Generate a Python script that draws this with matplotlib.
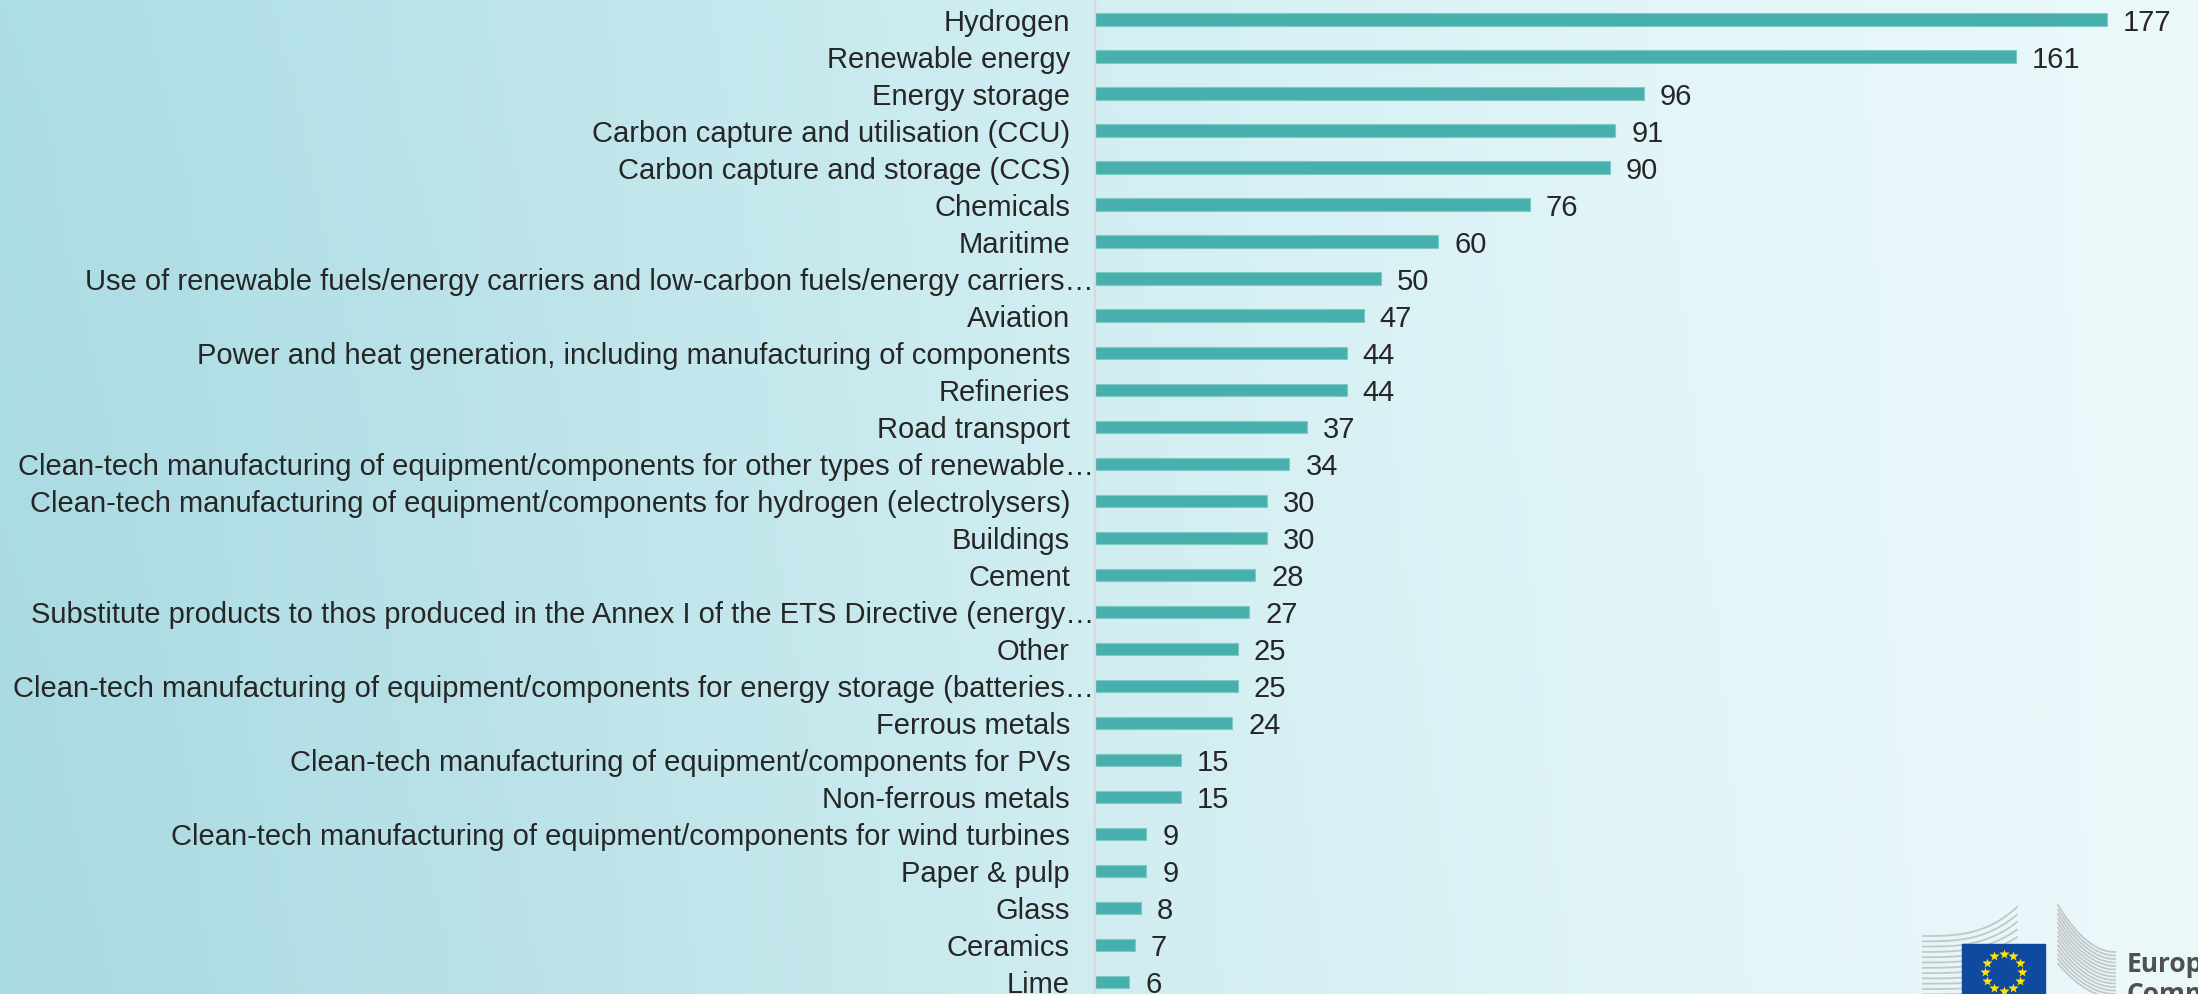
import numpy as np
import matplotlib.pyplot as plt
from matplotlib.patches import Rectangle

categories = [
    "Hydrogen",
    "Renewable energy",
    "Energy storage",
    "Carbon capture and utilisation (CCU)",
    "Carbon capture and storage (CCS)",
    "Chemicals",
    "Maritime",
    "Use of renewable fuels/energy carriers and low-carbon fuels/energy carriers…",
    "Aviation",
    "Power and heat generation, including manufacturing of components",
    "Refineries",
    "Road transport",
    "Clean-tech manufacturing of equipment/components for other types of renewable…",
    "Clean-tech manufacturing of equipment/components for hydrogen (electrolysers)",
    "Buildings",
    "Cement",
    "Substitute products to thos produced in the Annex I of the ETS Directive (energy…",
    "Other",
    "Clean-tech manufacturing of equipment/components for energy storage (batteries…",
    "Ferrous metals",
    "Clean-tech manufacturing of equipment/components for PVs",
    "Non-ferrous metals",
    "Clean-tech manufacturing of equipment/components for wind turbines",
    "Paper & pulp",
    "Glass",
    "Ceramics",
    "Lime",
]
values = [177, 161, 96, 91, 90, 76, 60, 50, 47, 44, 44, 37, 34, 30, 30, 28, 27,
          25, 25, 24, 15, 15, 9, 9, 8, 7, 6]

W, H = 2198, 994
fig = plt.figure(figsize=(W / 100, H / 100), dpi=100)

# background: pale cyan wash, darker on the left
bg = fig.add_axes([0, 0, 1, 1])
bg.set_xlim(0, W)
bg.set_ylim(H, 0)
bg.axis("off")
stops = [0.0, 0.25, 0.5, 0.75, 1.0]
cols = np.array([[173, 221, 229], [190, 229, 235], [210, 239, 243],
                 [226, 245, 248], [236, 249, 251]]) / 255
gx = np.linspace(0, 1, 500)
gy = np.linspace(0, 1, 200)
rgb = np.stack([np.interp(gx, stops, cols[:, c]) for c in range(3)], axis=-1)
img = np.repeat(rgb[None, :, :], len(gy), axis=0)
img = img - 0.015 * gy[:, None, None] * (1 - gx[None, :, None])
bg.imshow(np.clip(img, 0, 1), extent=[0, W, H, 0], aspect="auto", zorder=0)

# EU Commission logo, bottom right (runs off the edge)
line_c = "#C3C7C9"
for k in range(12):
    x = np.linspace(1923, 2017, 60)
    t = (x - 1923) / 94
    y = 936 + 5.3 * k - 29 * (1 - k / 13) * t ** 3
    bg.plot(x, y, color=line_c, lw=1.3, zorder=1)
for k in range(14):
    x = np.linspace(2058, 2115, 60)
    t = (x - 2058) / 57
    y_top = 905 + 4.5 * k
    y_end = 952 + 3.5 * k
    y = y_end + (y_top - y_end) * (1 - t) ** 2
    bg.plot(x, y, color=line_c, lw=1.3, zorder=1)
bg.add_patch(Rectangle((1962, 944), 83, 70, color="#0F4A9E", zorder=2))
ang = np.linspace(0, 2 * np.pi, 13)[:-1]
bg.plot(2003.5 + 18.5 * np.cos(ang), 972 + 18.5 * np.sin(ang), ls="none",
        marker="*", ms=7, color="#FFE600", mec="none", zorder=3)
bg.text(2127, 972, "European", fontsize=19, fontweight="bold", color="#505050",
        family="Open Sans", va="baseline", ha="left", zorder=3)
bg.text(2127, 1002, "Commission", fontsize=19, fontweight="bold", color="#505050",
        family="Open Sans", va="baseline", ha="left", zorder=3)

# bar chart
x0 = 1095
ax = fig.add_axes([x0 / W, 0, 1 - x0 / W, 1])
ax.patch.set_alpha(0)
pos = np.arange(len(values))
ax.barh(pos, values, height=0.34, color="#47B0AD", edgecolor="#7CC9C6",
        linewidth=0.8, zorder=2)
ax.set_xlim(0, (W - x0) / 5.718)
ax.set_ylim(26.32, -0.53)
for s in ["top", "right", "bottom"]:
    ax.spines[s].set_visible(False)
ax.spines["left"].set_color("#D9D9D9")
ax.spines["left"].set_linewidth(1.6)
ax.set_xticks([])
ax.set_yticks([])

txt = dict(fontsize=21, color="#262626", family="Liberation Sans",
           va="center_baseline", annotation_clip=False)
for i, (c, v) in enumerate(zip(categories, values)):
    off = -0.8 if c.endswith("…") else -18
    ax.annotate(c, xy=(0, i), xycoords=ax.get_yaxis_transform(),
                xytext=(off, 0), textcoords="offset points", ha="right", **txt)
    ax.annotate(str(v), xy=(v, i), xytext=(11.5, 0),
                textcoords="offset points", ha="left", **txt)

fig.savefig("out.png", dpi=100)
